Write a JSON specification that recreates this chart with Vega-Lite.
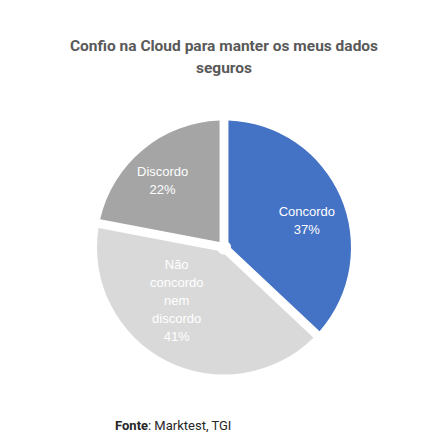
{
  "$schema": "https://vega.github.io/schema/vega-lite/v6.json",
  "width": 254,
  "height": 255,
  "autosize": "none",
  "padding": {"left": 97, "top": 120, "right": 87, "bottom": 72},
  "background": "white",
  "config": {"view": {"stroke": null}},
  "title": {
    "text": ["Confio na Cloud para manter os meus dados", "seguros"],
    "font": "Roboto",
    "fontSize": 15.5,
    "fontWeight": "bold",
    "color": "#595959",
    "anchor": "middle",
    "offset": 44,
    "lineHeight": 22
  },
  "data": {
    "values": [
      {"category": "Concordo", "value": 37, "order": 1},
      {"category": "Não concordo nem discordo", "value": 41, "order": 2},
      {"category": "Discordo", "value": 22, "order": 3}
    ]
  },
  "transform": [
    {"calculate": "replace(datum.category, / /g, '\\n') + '\\n' + datum.value + '%'", "as": "label"}
  ],
  "layer": [
    {
      "mark": {"type": "arc", "outerRadius": 127, "innerRadius": 7, "padAngle": 0.07},
      "encoding": {
        "theta": {"field": "value", "type": "quantitative", "stack": true},
        "order": {"field": "order", "type": "quantitative"},
        "color": {
          "field": "category",
          "type": "nominal",
          "scale": {
            "domain": ["Concordo", "Não concordo nem discordo", "Discordo"],
            "range": ["#4472C4", "#D9D9D9", "#A5A5A5"]
          },
          "legend": null
        }
      }
    },
    {
      "mark": {
        "type": "text",
        "font": "Liberation Sans",
        "fontSize": 13,
        "fill": "white",
        "lineBreak": "\n",
        "lineHeight": 18,
        "align": "center",
        "baseline": "middle",
        "radius": {"expr": "datum.category === 'Concordo' ? 87 : datum.category === 'Discordo' ? 90 : 69"},
        "dx": {"expr": "datum.category === 'Concordo' ? 3 : datum.category === 'Discordo' ? -4 : -16"},
        "dy": {"expr": "datum.category === 'Concordo' ? -1 : datum.category === 'Discordo' ? -6 : -44"}
      },
      "encoding": {
        "theta": {"field": "value", "type": "quantitative", "stack": true},
        "order": {"field": "order", "type": "quantitative"},
        "text": {"field": "label", "type": "nominal"}
      }
    },
    {
      "data": {"values": [{"t": "Fonte"}]},
      "mark": {"type": "text", "font": "Roboto", "fontSize": 13, "fontWeight": "bold", "fill": "#262626", "align": "left", "baseline": "alphabetic"},
      "encoding": {
        "text": {"field": "t", "type": "nominal"},
        "x": {"value": 18},
        "y": {"value": 310}
      }
    },
    {
      "data": {"values": [{"t": ": Marktest, TGI"}]},
      "mark": {"type": "text", "font": "Roboto", "fontSize": 13, "fill": "#262626", "align": "left", "baseline": "alphabetic"},
      "encoding": {
        "text": {"field": "t", "type": "nominal"},
        "x": {"value": 51},
        "y": {"value": 310}
      }
    }
  ]
}
